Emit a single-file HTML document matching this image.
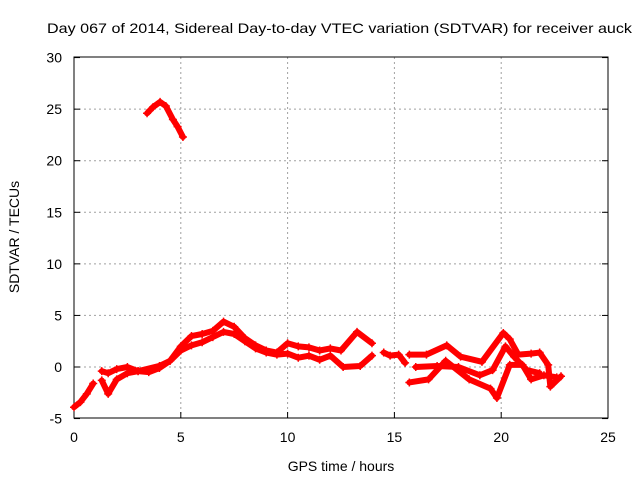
<!DOCTYPE html>
<html><head><meta charset="utf-8"><style>
body{margin:0;background:#fff;}
svg text{font-family:"Liberation Sans",sans-serif;font-size:14px;fill:#000;}
</style></head><body>
<svg width="640" height="480">
<g id="grid"></g>
<g id="axes"></g>
<g id="series"></g>
<text x="47" y="33" textLength="585" lengthAdjust="spacingAndGlyphs">Day 067 of 2014, Sidereal Day-to-day VTEC variation (SDTVAR) for receiver auck</text>
<text x="341" y="471" text-anchor="middle">GPS time / hours</text>
<text x="19" y="237" text-anchor="middle" transform="rotate(-90 19 237)">SDTVAR / TECUs</text>
</svg>
<script>
const xTicks=[0,5,10,15,20,25];
const yTicks=[-5,0,5,10,15,20,25,30];
const trackArc=[[3.42,24.6],[3.7,25.2],[4.03,25.7],[4.3,25.3],[4.63,24.0],[4.85,23.3],[5.1,22.3]];
const trackStart=[[0,-3.9],[0.3,-3.4],[0.6,-2.6],[0.9,-1.6]];
const trackUpper=[[1.3,-0.4],[1.6,-0.6],[2,-0.2],[2.5,0],[3,-0.4],[3.5,-0.5],[4,-0.1],[4.5,0.6],[5,2],[5.5,3],[6,3.2],[6.5,3.5],[7,4.4],[7.5,3.9],[8,2.8],[8.5,2.1],[9,1.6],[9.5,1.4],[10,2.3],[10.5,2],[11,1.9],[11.5,1.6],[12,1.8],[12.5,1.6],[13.25,3.4],[13.95,2.3]];
const trackLower=[[1.3,-1.3],[1.6,-2.6],[2,-1.2],[2.5,-0.6],[3,-0.4],[4,0.1],[4.5,0.6],[5,1.6],[5.5,2.1],[6,2.4],[6.5,2.9],[7,3.4],[7.5,3.2],[8,2.5],[8.5,1.8],[9,1.4],[9.5,1.2],[10,1.3],[10.5,0.9],[11,1.1],[11.5,0.7],[12,1.1],[12.6,0],[13.4,0.1],[13.95,1.1]];
const trackMid=[[14.5,1.4],[14.8,1.1],[15.2,1.2],[15.5,0.4]];
const trackLate1=[[15.7,1.2],[16.5,1.2],[17.45,2.1],[18.1,1],[19.1,0.5],[20.1,3.3],[20.4,2.7],[20.8,1.2],[21.4,1.3],[21.8,1.4],[22.2,0.2],[22.3,-1.9],[22.8,-0.9]];
const trackLate2=[[15.7,-1.5],[16.6,-1.2],[17.4,0.6],[18.5,-1.2],[19.5,-2.1],[19.8,-3.0],[20.4,0.2],[21,0.2],[21.4,-1.2],[22,-0.8],[22.6,-1.0]];
const trackLate3=[[16,0],[17,0.1],[18,0],[19,-0.8],[19.6,-0.3],[20.2,2.0],[20.6,1.0],[21.2,-0.3],[21.8,-0.6]];
const tracks=[trackArc,trackStart,trackUpper,trackLower,trackMid,trackLate1,trackLate2,trackLate3];
const X=h=>74+h*21.36, Y=v=>367-v*10.314;
const NS="http://www.w3.org/2000/svg";
function mk(t,a,p){const e=document.createElementNS(NS,t);for(const k in a)e.setAttribute(k,a[k]);p.appendChild(e);return e;}
const grid=document.getElementById('grid'),axes=document.getElementById('axes'),ser=document.getElementById('series');
xTicks.forEach(t=>{
 if(t>0&&t<25){const l=mk('line',{x1:X(t),x2:X(t),y1:57,y2:418,stroke:'#a0a0a0','stroke-dasharray':'2,3'},grid);
 
 }
 const tk=mk('line',{x1:X(t),x2:X(t),y1:418,y2:412,stroke:'#000'},axes);
 
 
 const tx=mk('text',{x:X(t),y:442,'text-anchor':'middle'},axes);tx.textContent=t;
 
 
});
yTicks.forEach(t=>{
 if(t>-5&&t<30){const l=mk('line',{x1:74,x2:608,y1:Y(t),y2:Y(t),stroke:'#a0a0a0','stroke-dasharray':'2,3'},grid);
 
 }
 const tk=mk('line',{x1:74,x2:80,y1:Y(t),y2:Y(t),stroke:'#000'},axes);
 
 
 const tk2=mk('line',{x1:602,x2:608,y1:Y(t),y2:Y(t),stroke:'#000'},axes);
 
 
 const tx=mk('text',{x:62,y:Y(t)+5,'text-anchor':'end'},axes);tx.textContent=t;
 
 
});
const fr=mk('rect',{x:74,y:57,width:534,height:361,fill:'none',stroke:'#000'},axes);


tracks.forEach(tr=>{
 const p=mk('polyline',{points:tr.map(d=>X(d[0])+','+Y(d[1])).join(' '),fill:'none',stroke:'#ff0000','stroke-width':6,'stroke-linejoin':'round','stroke-linecap':'round'},ser);
 
 
 tr.forEach(d=>{
  const m=mk('path',{d:`M${X(d[0])-4},${Y(d[1])}h8M${X(d[0])},${Y(d[1])-4}v8`,stroke:'#ff0000','stroke-width':1.5},ser);
  
  
 });
});
</script>
</body></html>
